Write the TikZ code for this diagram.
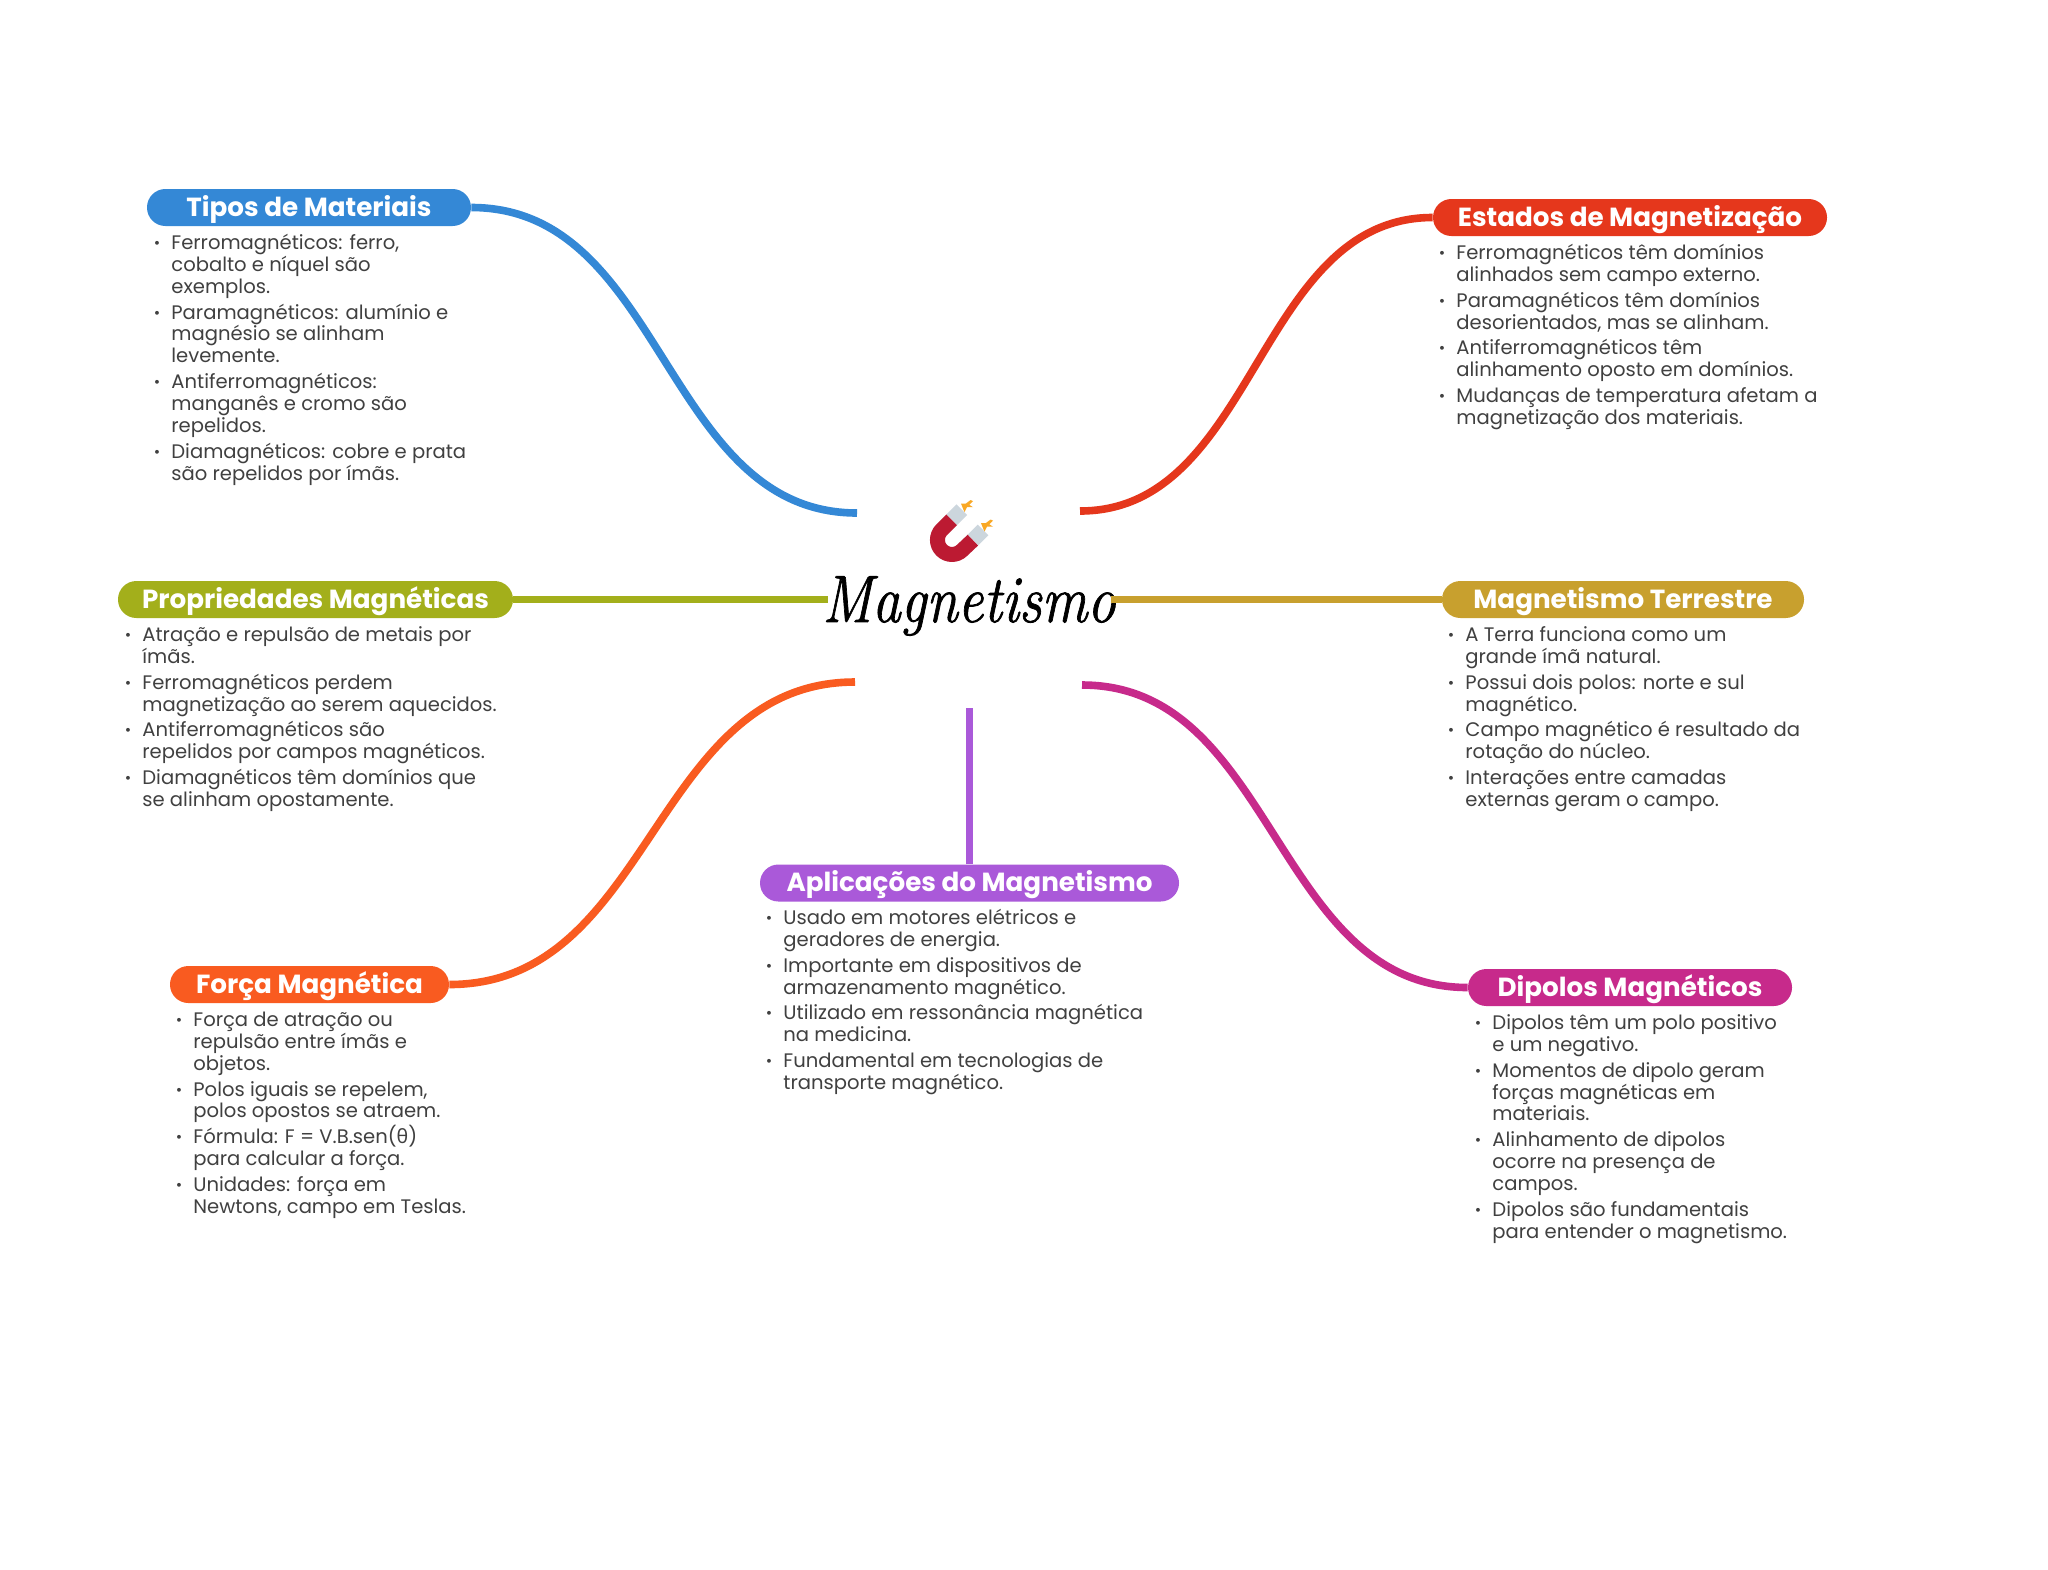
\documentclass[tikz,border=0pt]{standalone}
\usepackage{fontspec}
\setmainfont{Poppins}
\newfontfamily\thetafont{Noto Sans}
\newfontfamily\titlefont[ItalicFeatures={FakeBold=1.2}]{Latin Modern Roman}
\definecolor{cblue}{HTML}{3488D6}
\definecolor{cred}{HTML}{E5371C}
\definecolor{colive}{HTML}{A3AF1B}
\definecolor{cgold}{HTML}{C8A02E}
\definecolor{corange}{HTML}{F95B20}
\definecolor{cpurple}{HTML}{AA59D9}
\definecolor{cmag}{HTML}{C72A8B}
\definecolor{bodyc}{HTML}{404040}
\definecolor{magred}{HTML}{BC1A32}
\definecolor{maggrey}{HTML}{CCD6DD}
\definecolor{spark}{HTML}{F9A825}
\newcommand{\bi}{\leavevmode\rule{0pt}{8pt}\llap{\raisebox{0.5pt}{\fontsize{7.8}{8}\selectfont •}\hspace{5.5pt}}}
\newcommand{\nl}{\\[1.95pt]}
\tikzset{
  pill/.style={fill=#1,text=white,rounded corners=9.2pt,minimum height=18.5pt,inner sep=0pt,
    font=\fontsize{13.1}{14}\selectfont\bfseries,text height=8.8pt,text depth=0pt},
  bodytext/.style={anchor=north west,align=left,inner sep=0pt,text=bodyc,
    font=\fontsize{9.79}{10.95}\selectfont},
  link/.style={draw=#1,line width=3.3pt,line cap=butt},
  curvelink/.style={draw=#1,line width=3.8pt,line cap=butt},
}
\begin{document}
\begin{tikzpicture}[x=0.5pt,y=-0.5pt]
\useasboundingbox (0,0) rectangle (2048,1569);
\fill[white] (0,0) rectangle (2048,1569);

% pills
\node[pill=cblue,minimum width=162pt] (tipos) at (309,207.5) {Tipos de Materiais};
\node[pill=cred,minimum width=197pt] (estados) at (1630,217.5) {Estados de Magnetização};
\node[pill=colive,minimum width=197.5pt] (prop) at (315.5,599.5) {Propriedades Magnéticas};
\node[pill=cgold,minimum width=181pt] (terra) at (1623,599.5) {Magnetismo Terrestre};
\node[pill=corange,minimum width=139.5pt] (forca) at (309.5,984.5) {Força Magnética};
\node[pill=cpurple,minimum width=209.5pt] (aplic) at (969.5,883) {Aplicações do Magnetismo};
\node[pill=cmag,minimum width=162pt] (dipolos) at (1630,987.5) {Dipolos Magnéticos};

% centre
\node[inner sep=0pt,anchor=base,xscale=0.85,font=\titlefont\fontsize{33.5}{36}\selectfont\itshape] (centro) at (969,622) {Magnetismo};

\coordinate (fblue) at (857,513);
\coordinate (fred) at (1080,511);
\coordinate (forange) at (855,682);
\coordinate (fmag) at (1082,685);
\coordinate (folive) at (828,599.5);
\coordinate (fgold) at (1111,599.5);
\coordinate (fpurple) at (969.5,708);

% connectors
\draw[curvelink=cblue] (tipos.east) .. controls +(193,0) and +(-193,0) .. (fblue);
\draw[curvelink=cred] (estados.west) .. controls +(-176,0) and +(176,0) .. (fred);
\draw[link=colive] (prop.east) -- (folive);
\draw[link=cgold] (terra.west) -- (fgold);
\draw[curvelink=corange] (forca.east) .. controls +(203,0) and +(-203,0) .. (forange);
\draw[curvelink=cmag] (dipolos.west) .. controls +(-193,0) and +(193,0) .. (fmag);
\draw[link=cpurple] (aplic.north) -- (fpurple);

% magnet
\draw[magred,line width=7.5pt] (951.7,519.7) -- (941.7,529.7) arc[start angle=225,end angle=45,radius=14.5] -- (973,540);
\draw[maggrey,line width=7.5pt] (951.7,519.7) -- (961.7,509.7);
\draw[maggrey,line width=7.5pt] (973,540) -- (983,530);
\fill[spark,shift={(967,506)},scale=1.2] (3,-5) -- (-1,-2) -- (-5,-2) -- (-3,3) -- (-2,5) -- (0,1) -- (5,1) -- (2,-1) -- (5,-4) -- cycle;
\fill[spark,shift={(987,525.5)},scale=1.2] (3,-5) -- (-1,-2) -- (-5,-2) -- (-3,3) -- (-2,5) -- (0,1) -- (5,1) -- (2,-1) -- (5,-4) -- cycle;

% bodies
\node[bodytext] (ltipos) at (171,233) {\bi Ferromagnéticos: ferro,\\cobalto e níquel são\\exemplos.\nl
\bi Paramagnéticos: alumínio e\\magnésio se alinham\\levemente.\nl
\bi Antiferromagnéticos:\\manganês e cromo são\\repelidos.\nl
\bi Diamagnéticos: cobre e prata\\são repelidos por ímãs.};
\node[bodytext] (lestados) at (1456,243) {\bi Ferromagnéticos têm domínios\\alinhados sem campo externo.\nl
\bi Paramagnéticos têm domínios\\desorientados, mas se alinham.\nl
\bi Antiferromagnéticos têm\\alinhamento oposto em domínios.\nl
\bi Mudanças de temperatura afetam a\\magnetização dos materiais.};
\node[bodytext] (lprop) at (142,625) {\bi Atração e repulsão de metais por\\ímãs.\nl
\bi Ferromagnéticos perdem\\magnetização ao serem aquecidos.\nl
\bi Antiferromagnéticos são\\repelidos por campos magnéticos.\nl
\bi Diamagnéticos têm domínios que\\se alinham opostamente.};
\node[bodytext] (lterra) at (1465,625) {\bi A Terra funciona como um\\grande ímã natural.\nl
\bi Possui dois polos: norte e sul\\magnético.\nl
\bi Campo magnético é resultado da\\rotação do núcleo.\nl
\bi Interações entre camadas\\externas geram o campo.};
\node[bodytext] (laplic) at (783,908) {\bi Usado em motores elétricos e\\geradores de energia.\nl
\bi Importante em dispositivos de\\armazenamento magnético.\nl
\bi Utilizado em ressonância magnética\\na medicina.\nl
\bi Fundamental em tecnologias de\\transporte magnético.};
\node[bodytext] (lforca) at (193,1010) {\bi Força de atração ou\\repulsão entre ímãs e\\objetos.\nl
\bi Polos iguais se repelem,\\polos opostos se atraem.\nl
\bi Fórmula: F = V.B.sen\smash{({\thetafont θ})}\\para calcular a força.\nl
\bi Unidades: força em\\Newtons, campo em Teslas.};
\node[bodytext] (ldipolos) at (1492,1013) {\bi Dipolos têm um polo positivo\\e um negativo.\nl
\bi Momentos de dipolo geram\\forças magnéticas em\\materiais.\nl
\bi Alinhamento de dipolos\\ocorre na presença de\\campos.\nl
\bi Dipolos são fundamentais\\para entender o magnetismo.};
\end{tikzpicture}
\end{document}
